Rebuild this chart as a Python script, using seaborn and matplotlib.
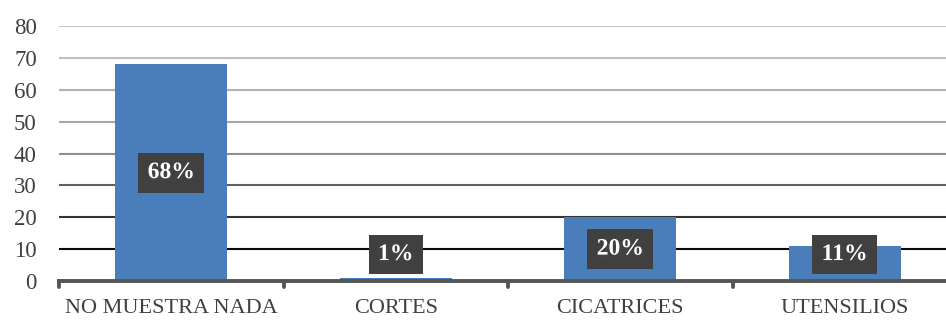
import matplotlib
matplotlib.use("Agg")
import matplotlib.pyplot as plt
import seaborn as sns
import pandas as pd
import matplotlib.patheffects as pe

categories = ["NO MUESTRA NADA", "CORTES", "CICATRICES", "UTENSILIOS"]
values = [68, 1, 20, 11]
labels = ["68%", "1%", "20%", "11%"]
yticks = [0, 10, 20, 30, 40, 50, 60, 70, 80]

sns.set_theme(style="white")
plt.rcParams['font.family'] = ['Liberation Serif', 'DejaVu Serif']

df = pd.DataFrame({"cat": categories, "val": values})
fig = plt.figure(figsize=(9.46, 3.2), dpi=100)
ax = fig.add_axes([59 / 946, 39 / 320, 898 / 946, 255 / 320])

sns.barplot(data=df, x="cat", y="val", color="#4A7EBB", width=0.5, ax=ax,
            saturation=1, edgecolor="none", zorder=3)
ax.set_ylim(0, 80)
ax.set_xlim(-0.5, 3.5)
ax.set_yticks(yticks)
ax.set_yticklabels([str(t) for t in yticks])
ax.set_xlabel("")
ax.set_ylabel("")

# gridlines with gradient colour (lighter at top)
grid_cols = {10: "#0a0a0a", 20: "#333333", 30: "#606060", 40: "#8f8f8f",
             50: "#a6a6a6", 60: "#b2b2b2", 70: "#bdbdbd", 80: "#c6c6c6"}
for t in yticks[1:]:
    ax.axhline(t, color=grid_cols[t], lw=1.5, zorder=1)

for s in ["top", "right", "left"]:
    ax.spines[s].set_visible(False)
ax.spines["bottom"].set_color("#555555")
ax.spines["bottom"].set_linewidth(2.8)
ax.spines["bottom"].set_zorder(4)

ax.tick_params(axis="y", length=0, labelsize=16.5, labelcolor="#404040", pad=16)
ax.tick_params(axis="x", length=0, labelsize=16, labelcolor="#404040", pad=13)

# category boundary ticks
for b in [-0.5, 0.5, 1.5, 2.5]:
    ax.plot([b, b], [0, -2.0], color="#555555", lw=2.8, clip_on=False, zorder=4)

for i, (v, lab) in enumerate(zip(values, labels)):
    y = max(v / 2, 8.3)
    ax.text(i, y, lab, ha="center", va="center", color="white", fontsize=17,
            fontweight="bold", zorder=6,
            bbox=dict(boxstyle="square,pad=0.4", fc="#404040", ec="none"),
            path_effects=[pe.withSimplePatchShadow(offset=(2, -2), alpha=0.3)])

fig.savefig("out.png", dpi=100, facecolor="white")
